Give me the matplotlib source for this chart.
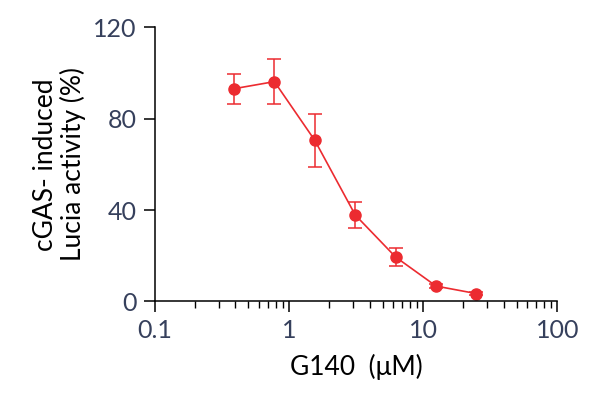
import matplotlib
matplotlib.use("Agg")
import matplotlib.pyplot as plt
from matplotlib.ticker import LogLocator, NullFormatter, FixedLocator, FixedFormatter

# G140 dose (uM) vs cGAS-induced Lucia activity (%)
conc = [0.39, 0.78, 1.56, 3.125, 6.25, 12.5, 25]
activity = [93.1, 96.2, 70.5, 37.8, 19.4, 6.7, 3.4]
err = [6.6, 9.9, 11.5, 5.5, 3.9, 1.0, 0.8]

x_ticks = [0.1, 1, 10, 100]
x_labels = ["0.1", "1", "10", "100"]
y_ticks = [0, 40, 80, 120]

plt.rcParams["font.family"] = ["Lato", "DejaVu Sans"]
red = "#ec2b30"

fig = plt.figure(figsize=(5.92, 3.95), dpi=100)
ax = fig.add_axes([0.2613, 0.237, 0.68, 0.694])

ax.errorbar(conc, activity, yerr=err, color=red, marker="o", markersize=8,
            linewidth=1.2, elinewidth=1.1, capsize=5, capthick=1.1)

ax.set_xscale("log")
ax.set_xlim(0.1, 100)
ax.set_ylim(0, 120)
ax.xaxis.set_major_locator(FixedLocator(x_ticks))
ax.xaxis.set_major_formatter(FixedFormatter(x_labels))
ax.xaxis.set_minor_locator(LogLocator(base=10, subs=range(2, 10)))
ax.xaxis.set_minor_formatter(NullFormatter())
ax.set_yticks(y_ticks)

for s in ["top", "right"]:
    ax.spines[s].set_visible(False)
for s in ["left", "bottom"]:
    ax.spines[s].set_linewidth(1.1)
ax.tick_params(which="major", length=8, width=1.1, labelsize=18,
               labelcolor="#36405c", pad=5)
ax.tick_params(which="minor", length=5, width=1.0)

ax.set_xlabel("G140  (\u03bcM)", fontsize=19, labelpad=8)
ax.set_ylabel("cGAS- induced\nLucia activity (%)", fontsize=19, labelpad=5,
              linespacing=1.1)

fig.savefig("out.png", dpi=100)
